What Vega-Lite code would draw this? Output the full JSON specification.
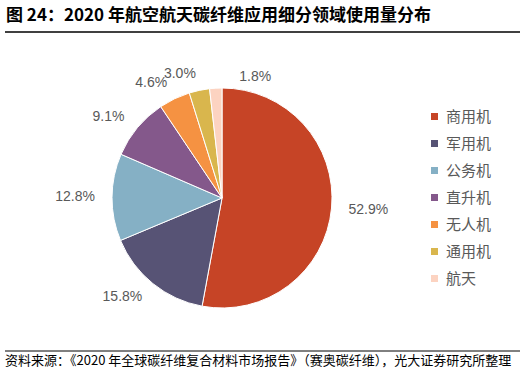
{
  "$schema": "https://vega.github.io/schema/vega-lite/v6.json",
  "width": 300,
  "height": 220,
  "autosize": {"type": "none"},
  "padding": {"left": 72, "top": 88, "right": 155, "bottom": 64},
  "background": "white",
  "title": {
    "text": "图 24：2020 年航空航天碳纤维应用细分领域使用量分布",
    "anchor": "start",
    "frame": "group",
    "dx": -66,
    "offset": 6,
    "font": "Noto Sans CJK SC",
    "fontSize": 17,
    "fontWeight": "bold",
    "color": "#000000"
  },
  "config": {"view": {"stroke": null}},
  "layer": [
    {
      "data": {"values": [
        {"name": "商用机", "value": 52.9, "rank": 1, "label": "52.9%"},
        {"name": "军用机", "value": 15.8, "rank": 2, "label": "15.8%"},
        {"name": "公务机", "value": 12.8, "rank": 3, "label": "12.8%"},
        {"name": "直升机", "value": 9.1, "rank": 4, "label": "9.1%"},
        {"name": "无人机", "value": 4.6, "rank": 5, "label": "4.6%"},
        {"name": "通用机", "value": 3.0, "rank": 6, "label": "3.0%"},
        {"name": "航天", "value": 1.8, "rank": 7, "label": "1.8%"}
      ]},
      "encoding": {
        "theta": {"field": "value", "type": "quantitative", "stack": true},
        "order": {"field": "rank", "type": "quantitative", "sort": "ascending"}
      },
      "layer": [
        {
          "mark": {"type": "arc", "outerRadius": 110, "stroke": "white", "strokeWidth": 1},
          "encoding": {
            "color": {
              "field": "name",
              "type": "nominal",
              "sort": null,
              "scale": {
                "domain": ["商用机", "军用机", "公务机", "直升机", "无人机", "通用机", "航天"],
                "range": ["#C64426", "#575375", "#85B0C5", "#84588B", "#F59242", "#D9B64D", "#FCD3C1"]
              },
              "legend": {
                "orient": "none",
                "legendX": 355,
                "legendY": 21,
                "title": null,
                "symbolType": "square",
                "symbolSize": 49,
                "symbolStrokeWidth": 0,
                "labelFont": "Noto Sans CJK SC",
                "labelFontSize": 15,
                "labelColor": "#595959",
                "labelOffset": 4,
                "rowPadding": 11
              }
            }
          }
        },
        {
          "mark": {"type": "text", "radius": 127, "align": "right", "font": "Liberation Sans", "fontSize": 14, "color": "#595959"},
          "encoding": {
            "text": {"condition": {"test": "datum.rank >= 2 && datum.rank <= 6", "field": "label"}, "value": ""}
          }
        },
        {
          "mark": {"type": "text", "radius": 127, "align": "left", "font": "Liberation Sans", "fontSize": 14, "color": "#595959"},
          "encoding": {
            "text": {"condition": {"test": "datum.rank === 1", "field": "label"}, "value": ""}
          }
        },
        {
          "mark": {"type": "text", "radius": 137, "dx": 41, "dy": 16, "font": "Liberation Sans", "fontSize": 14, "color": "#595959"},
          "encoding": {
            "text": {"condition": {"test": "datum.rank === 7", "field": "label"}, "value": ""}
          }
        }
      ]
    },
    {
      "data": {"values": [{}]},
      "mark": {"type": "rule", "color": "#000000", "strokeWidth": 1.5},
      "encoding": {"x": {"value": -67}, "x2": {"value": 448}, "y": {"value": -56}}
    },
    {
      "data": {"values": [{}]},
      "mark": {"type": "rule", "color": "#000000", "strokeWidth": 1},
      "encoding": {"x": {"value": -67}, "x2": {"value": 448}, "y": {"value": 263}}
    },
    {
      "data": {"values": [{}]},
      "mark": {"type": "text", "align": "left", "baseline": "middle", "font": "Noto Sans CJK SC", "fontSize": 13, "color": "#000000"},
      "encoding": {
        "x": {"value": -67},
        "y": {"value": 273},
        "text": {"value": "资料来源：《2020 年全球碳纤维复合材料市场报告》（赛奥碳纤维），光大证券研究所整理"}
      }
    }
  ]
}
